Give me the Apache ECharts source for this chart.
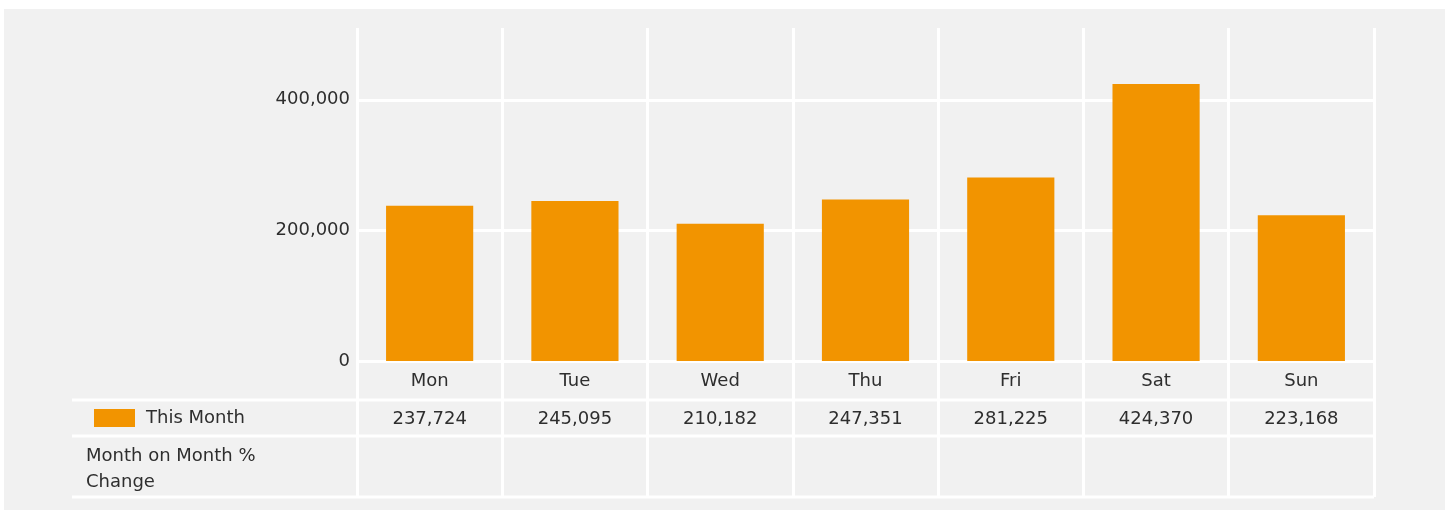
<!DOCTYPE html>
<html>
<head>
<meta charset="utf-8" />
<title>This Month by Weekday</title>
<script src="https://cdn.jsdelivr.net/npm/echarts@6/dist/echarts.min.js"></script>
<style>
  html, body { margin: 0; padding: 0; background: #fff; }
  #main { width: 1445px; height: 510px; }
</style>
</head>
<body>
<div id="main"></div>
<script>
  var days = ['Mon', 'Tue', 'Wed', 'Thu', 'Fri', 'Sat', 'Sun'];
  var thisMonth = [237724, 245095, 210182, 247351, 281225, 424370, 223168];
  var yTicks = [0, 200000, 400000];
  var seriesName = 'This Month';
  var changeLabel = ['Month on Month %', 'Change'];

  var font = 'DejaVu Sans';
  var txt = '#2e2e2e';
  var fmt = function (v) { return Number(v).toLocaleString('en-US'); };

  var chart = echarts.init(document.getElementById('main'));

  chart.setOption({
    animation: false,
    textStyle: { fontFamily: font, color: txt },
    legend: {
      data: [seriesName],
      left: 89,
      top: 404,
      icon: 'rect',
      itemWidth: 41,
      itemHeight: 18,
      textStyle: { fontFamily: font, fontSize: 18, color: txt, padding: [0, 0, 0, 6] }
    },
    grid: [
      { left: 357, width: 1017, top: 28, height: 333 },
      { left: 357, width: 1017, top: 28, height: 469 }
    ],
    xAxis: [
      {
        type: 'category', gridIndex: 0, data: days,
        axisLine: { show: false }, axisTick: { show: false },
        axisLabel: { margin: 11, fontSize: 18, color: txt, fontFamily: font },
        splitLine: { show: false }
      },
      {
        type: 'category', gridIndex: 0, position: 'bottom', offset: 38,
        data: thisMonth.map(fmt),
        axisLine: { show: false }, axisTick: { show: false },
        axisLabel: { margin: 11, fontSize: 18, color: txt, fontFamily: font },
        splitLine: { show: false }
      },
      {
        type: 'category', gridIndex: 1, data: days,
        axisLine: { show: false }, axisTick: { show: false }, axisLabel: { show: false },
        splitLine: { show: true, lineStyle: { color: '#ffffff', width: 3 } }
      }
    ],
    yAxis: [
      {
        type: 'value', gridIndex: 0, min: yTicks[0], max: 510000, interval: yTicks[1] - yTicks[0],
        axisLine: { show: false }, axisTick: { show: false },
        axisLabel: { margin: 7, fontSize: 18, color: txt, fontFamily: font, showMaxLabel: false, formatter: fmt },
        splitLine: { show: true, showMaxLine: false, lineStyle: { color: '#ffffff', width: 3 } }
      },
      {
        type: 'value', gridIndex: 1, show: false, splitLine: { show: false }
      }
    ],
    series: [{
      name: seriesName,
      type: 'bar',
      xAxisIndex: 0,
      yAxisIndex: 0,
      barWidth: '60%',
      itemStyle: { color: '#f29400' },
      data: thisMonth
    }],
    graphic: [
      { type: 'rect', z: -10, silent: true, shape: { x: 4, y: 9, width: 1441, height: 501 }, style: { fill: '#f1f1f1' } },
      { type: 'rect', z: 0, silent: true, shape: { x: 72, y: 398.5, width: 1302, height: 3 }, style: { fill: '#ffffff' } },
      { type: 'rect', z: 0, silent: true, shape: { x: 72, y: 434.5, width: 1302, height: 3 }, style: { fill: '#ffffff' } },
      { type: 'rect', z: 0, silent: true, shape: { x: 72, y: 495.5, width: 1302, height: 3 }, style: { fill: '#ffffff' } },
      {
        type: 'text', left: 86, top: 443, z: 5,
        style: { text: changeLabel.join('\n'), font: '18px "' + font + '"', fill: txt, lineHeight: 26 }
      }
    ]
  });
</script>
</body>
</html>
